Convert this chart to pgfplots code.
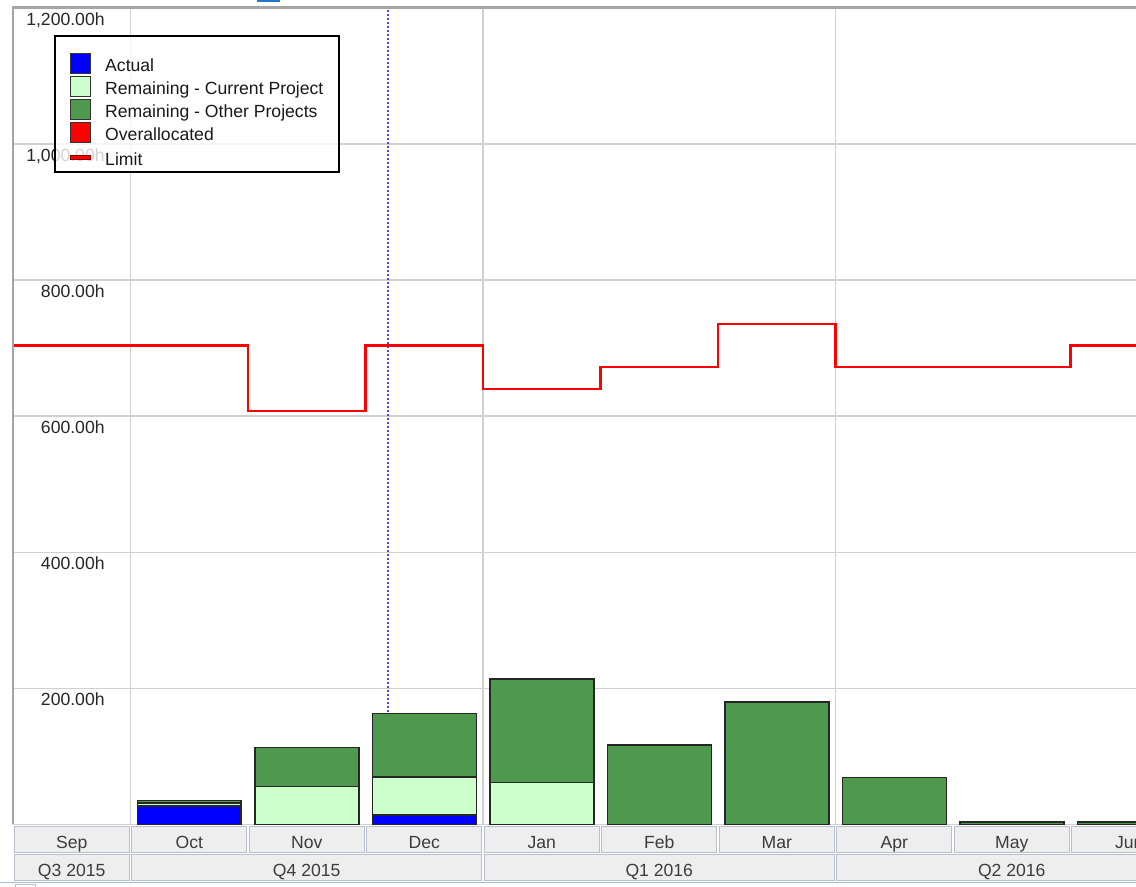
\documentclass[border=0pt]{standalone}
\usepackage{fontspec}
\setmainfont{Liberation Sans}
\usepackage{pgfplots}
\pgfplotsset{compat=1.18}
\definecolor{actualblue}{RGB}{0,0,255}
\definecolor{curgreen}{RGB}{204,255,204}
\definecolor{othgreen}{RGB}{79,153,79}
\definecolor{gridgray}{RGB}{208,208,208}
\definecolor{edgegray}{RGB}{165,165,165}
\definecolor{boxfill}{RGB}{238,238,238}
\definecolor{boxedge}{RGB}{184,191,206}
\definecolor{labelgray}{RGB}{60,60,60}
\definecolor{todayblue}{RGB}{70,70,255}
\definecolor{stripblue}{RGB}{165,190,220}
\definecolor{topblue}{RGB}{30,120,208}
\newcommand{\ff}{\fontsize{8.8}{10.5}\selectfont}
\begin{document}
\begin{tikzpicture}
\path[use as bounding box] (-6.5pt,-31.25pt) rectangle (561.5pt,412.25pt);
\fill[white] (-6.5pt,-31.25pt) rectangle (561.5pt,412.25pt);
% month header cells
\foreach \i in {0,...,9} {
  \filldraw[fill=boxfill, draw=boxedge, line width=0.6pt]
    ({58.75pt*\i+0.6pt},-0.9pt) rectangle ({58.75pt*(\i+1)-0.6pt},-13.9pt);
}
% quarter header cells
\foreach \a/\b in {0/1,1/4,4/7,7/10} {
  \filldraw[fill=boxfill, draw=boxedge, line width=0.6pt]
    ({58.75pt*\a+0.6pt},-14.9pt) rectangle ({58.75pt*\b-0.6pt},-28.2pt);
}
\draw[stripblue, line width=0.6pt] (-6.5pt,-29pt) -- (561.5pt,-29pt);
\filldraw[fill=white, draw=boxedge, line width=0.5pt] (1pt,-30pt) rectangle (11pt,-33pt);
\begin{axis}[
  at={(0pt,0pt)}, anchor=south west,
  scale only axis, width=561.5pt, height=408.25pt,
  xmin=0, xmax=9.5574, ymin=0, ymax=1200,
  ybar stacked, bar width=0.885,
  axis line style={draw=none},
  major tick length=0pt, minor tick length=0pt,
  ytick={0,200,...,1200},
  yticklabels={{},{200.00h},{400.00h},{600.00h},{800.00h},{1,000.00h},{1,200.00h}},
  yticklabel style={anchor=north east, inner sep=0pt, xshift=46pt, yshift=-2pt, font=\ff, text=black!85},
  ymajorgrids,
  major grid style={gridgray, line width=0.75pt},
  minor xtick={1,4,7}, xminorgrids,
  minor grid style={gridgray, line width=0.75pt},
  xtick={0.5,1.5,2.5,3.5,4.5,5.5,6.5,7.5,8.5,9.5},
  xticklabels={Sep,Oct,Nov,Dec,Jan,Feb,Mar,Apr,May,Jun},
  xticklabel style={anchor=base, yshift=-11.8pt, inner sep=0pt, text=labelgray, font=\ff},
  extra x ticks={0.5,2.5,5.5,8.5},
  extra x tick labels={Q3 2015,Q4 2015,Q1 2016,Q2 2016},
  extra x tick style={grid=none, xticklabel style={yshift=-14.4pt}},
  legend style={at={(0.0508,0.9449)}, anchor=north west, draw=none, fill=none,
    inner sep=0pt, outer sep=0pt, row sep=0.9pt, column sep=7pt, font=\ff,
    nodes={inner sep=0pt, text=black!90, yshift=-1.3pt}},
  legend cell align=left,
]
% Actual
\addplot[fill=actualblue, draw=black!85, line width=0.75pt, forget plot] coordinates {
 (1.5,27) (2.5,0) (3.5,14) (4.5,0) (5.5,0) (6.5,0) (7.5,0) (8.5,0) (9.5,0)};
% Remaining - Current Project
\addplot[fill=curgreen, draw=black!85, line width=0.75pt, forget plot] coordinates {
 (1.5,4.5) (2.5,56) (3.5,56) (4.5,62) (5.5,0) (6.5,0) (7.5,0) (8.5,0) (9.5,0)};
% Remaining - Other Projects
\addplot[fill=othgreen, draw=black!85, line width=0.75pt, forget plot] coordinates {
 (1.5,3.5) (2.5,57) (3.5,93) (4.5,152) (5.5,117) (6.5,180) (7.5,69) (8.5,3.7) (9.5,3.7)};
% Limit
\addplot[const plot, stack plots=false, draw=red, line width=1.2pt, forget plot] coordinates {
 (0,704) (1,704) (2,608) (3,704) (4,640) (5,672) (6,736) (7,672) (8,672) (9,704) (10,704)};
% today marker
\addplot[sharp plot, stack plots=false, draw=todayblue, line width=0.65pt, dash pattern=on 1pt off 1pt, forget plot] coordinates {(3.191,0) (3.191,1200)};
% legend frame
\draw[fill=white, fill opacity=0.8, draw=black, line width=0.6pt]
  (rel axis cs:0.0374,0.7991) rectangle (rel axis cs:0.2903,0.9657);
\addlegendimage{legend image code/.code={\filldraw[fill=actualblue, draw=black!80, line width=0.6pt] (0pt,-5pt) rectangle (10pt,5pt);}}
\addlegendentry{Actual}
\addlegendimage{legend image code/.code={\filldraw[fill=curgreen, draw=black!80, line width=0.6pt] (0pt,-5pt) rectangle (10pt,5pt);}}
\addlegendentry{Remaining - Current Project}
\addlegendimage{legend image code/.code={\filldraw[fill=othgreen, draw=black!80, line width=0.6pt] (0pt,-5pt) rectangle (10pt,5pt);}}
\addlegendentry{Remaining - Other Projects}
\addlegendimage{legend image code/.code={\filldraw[fill=red, draw=black!80, line width=0.6pt] (0pt,-5pt) rectangle (10pt,5pt);}}
\addlegendentry{Overallocated}
\addlegendimage{legend image code/.code={\path[draw=none, fill=none] (0pt,-6.3pt) rectangle (10pt,6.3pt); \filldraw[fill=red, draw=black!45!red, line width=0.5pt] (0pt,-1.1pt) rectangle (10pt,1.1pt);}}
\addlegendentry{Limit}
\end{axis}
\draw[edgegray, line width=0.75pt] (0pt,0pt) -- (0pt,408.25pt);
\draw[edgegray, line width=1.5pt] (-0.375pt,408.5pt) -- (561.5pt,408.5pt);
\fill[topblue] (122pt,412.25pt) rectangle (133.5pt,411pt);
\end{tikzpicture}
\end{document}
